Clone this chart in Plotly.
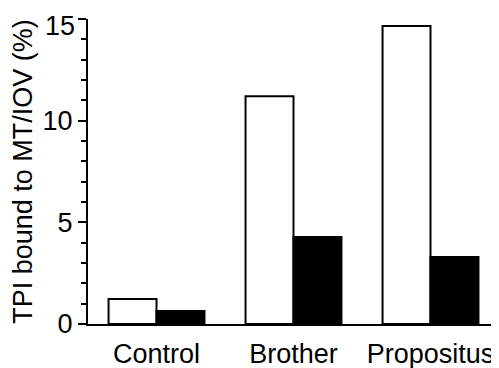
import plotly.graph_objects as go

categories = ["Control", "Brother", "Propositus"]
open_values = [1.23, 11.2, 14.65]
filled_values = [0.64, 4.28, 3.3]
y_major_step = 5
y_minor_step = 1
y_top = 15
y_top_label = "15"

FONT = "Liberation Sans, Arial, Helvetica, sans-serif"

fig = go.Figure()
fig.add_trace(go.Bar(x=categories, y=open_values, name="open",
                     marker=dict(color="white", line=dict(color="black", width=2))))
fig.add_trace(go.Bar(x=categories, y=filled_values, name="filled",
                     marker=dict(color="black", line=dict(color="black", width=2))))

# page body has an 8px margin, so the figure is sized to fit what remains
fig.update_layout(
    width=491, height=360,
    margin=dict(l=80, r=0, t=11, b=44, autoexpand=False),
    paper_bgcolor="white", plot_bgcolor="white",
    barmode="group", bargap=0.3, bargroupgap=0,
    showlegend=False,
    font=dict(family=FONT, size=27, color="black"),
)
fig.update_xaxes(
    range=[-0.5, 2.5], showline=True, linecolor="black", linewidth=2,
    ticks="", showgrid=False, zeroline=False, automargin=False,
    tickfont=dict(size=27), ticklabelstandoff=5, ticklabeloverflow="allow",
)
fig.update_yaxes(
    range=[0, y_top], showline=True, linecolor="black", linewidth=2,
    tickmode="linear", tick0=0, dtick=y_major_step,
    ticks="outside", ticklen=8, tickwidth=2, tickcolor="black",
    minor=dict(tick0=0, dtick=y_minor_step, ticks="outside", ticklen=5,
               tickwidth=2, tickcolor="black", showgrid=False),
    showgrid=False, zeroline=False, automargin=False,
    tickfont=dict(size=27), ticklabeloverflow="allow",
    labelalias={y_top_label: " "},
    title=dict(text="TPI bound to MT/IOV (%)", font=dict(size=27), standoff=3),
)
# top tick label sits a little below its tick, as in the original
fig.add_annotation(
    x=0, xref="paper", y=y_top, yref="y", text=y_top_label,
    showarrow=False, xanchor="right", yanchor="middle",
    xshift=-11, yshift=-7, font=dict(size=27, family=FONT, color="black"),
)

fig.write_html("out.html")
